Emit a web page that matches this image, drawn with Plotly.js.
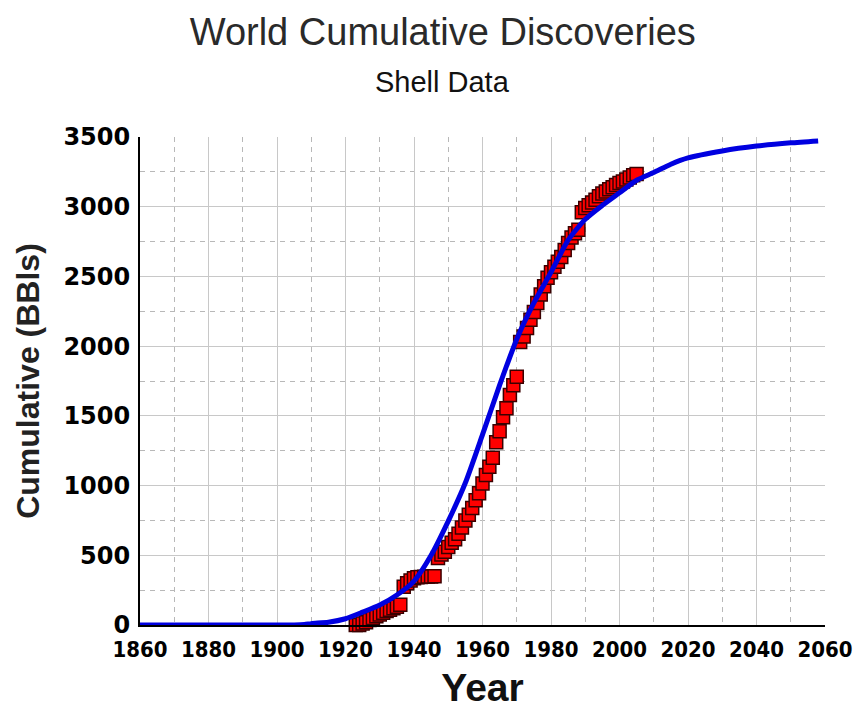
<!DOCTYPE html>
<html>
<head>
<meta charset="utf-8">
<script src="https://cdn.plot.ly/plotly-3.0.1.min.js"></script>
<style>html,body{margin:0;padding:0;background:#fff;}#chart{width:856px;height:712px;}</style>
</head>
<body>
<div id="chart"></div>
<script>
// Discovered cumulative volumes (Shell data), billion barrels
const dataYears = [1923,1924,1925,1926,1927,1928,1929,1930,1931,1932,1933,1934,1935,1936,
  1937,1938,1939,1940,1941,1942,1943,1944,1945,1946,1947,1948,1949,1950,1951,1952,1953,1954,
  1955,1956,1957,1958,1959,1960,1961,1962,1963,1964,1965,1966,1967,1968,1969,1970,1971,1972,
  1973,1974,1975,1976,1977,1978,1979,1980,1981,1982,1983,1984,1985,1986,1987,1988,1989,1990,
  1991,1992,1993,1994,1995,1996,1997,1998,1999,2000,2001,2002,2003,2004,2005];
const dataCum = [0,0,10,20,35,50,62,75,88,100,110,120,130,145,
  275,300,320,335,342,345,346,347,348,350,480,505,525,560,590,615,655,700,
  750,790,840,895,945,1015,1075,1135,1200,1310,1390,1490,1555,1650,1720,1780,2030,2070,
  2130,2190,2245,2310,2370,2430,2490,2530,2570,2605,2640,2690,2740,2780,2810,2835,2960,2990,
  3010,3030,3050,3075,3095,3110,3125,3140,3155,3170,3180,3195,3210,3225,3235];

// Fitted logistic curve
const fitYears = [1860,1870,1880,1890,1900,1905,1908,1910,1915,1920,1925,1930,1935,1940,1945,
  1950,1955,1960,1965,1970,1975,1980,1985,1990,1995,2000,2005,2010,2015,2020,2030,2040,2050,2058];
const fitCum = [0,0,0,0,0,0,3,10,20,45,92,143,215,315,500,
  745,1020,1365,1720,2050,2310,2530,2760,2910,3010,3100,3190,3245,3305,3350,3400,3435,3458,3472];

const xTicks = [1860,1880,1900,1920,1940,1960,1980,2000,2020,2040,2060];
const yTicks = [0,500,1000,1500,2000,2500,3000,3500];

const traces = [
  {
    x: dataYears, y: dataCum, type: 'scatter', mode: 'markers', name: 'Shell Data',
    cliponaxis: false,
    marker: {symbol: 'square', size: 13, color: '#ff0000', line: {color: '#3a0000', width: 1.5}}
  },
  {
    x: fitYears, y: fitCum, type: 'scatter', mode: 'lines', name: 'Fit',
    cliponaxis: false,
    line: {color: '#0000e0', width: 5, shape: 'spline', smoothing: 0.6}
  }
];

const layout = {
  width: 856, height: 712,
  paper_bgcolor: '#ffffff', plot_bgcolor: '#ffffff',
  showlegend: false,
  margin: {l: 140, r: 31, t: 137, b: 87},
  title: {
    text: 'World Cumulative Discoveries',
    font: {family: 'Liberation Sans, Arial, sans-serif', size: 38, color: '#2a2a2a'},
    xref: 'paper', x: 0.442, xanchor: 'center',
    yref: 'container', y: 1 - 32/712, yanchor: 'middle'
  },
  annotations: [{
    text: 'Shell Data', xref: 'paper', x: 0.442, xanchor: 'center',
    yref: 'paper', y: 1 + (137 - 82)/488, yanchor: 'middle', showarrow: false,
    font: {family: 'Liberation Sans, Arial, sans-serif', size: 29, color: '#111111'}
  }],
  xaxis: {
    range: [1859.999, 2060.001], tickvals: xTicks, ticktext: xTicks.map(String),
    showline: true, linecolor: '#000000', linewidth: 2,
    showgrid: true, gridcolor: '#c8c8c8', gridwidth: 1,
    minor: {dtick: 10, tick0: 1860, showgrid: true, gridcolor: '#b8b8b8', griddash: '5px,5px', gridwidth: 1},
    zeroline: false, ticks: '', ticklabelstandoff: 4,
    tickfont: {family: 'Liberation Sans Narrow, DejaVu Sans Condensed, Arial Narrow, sans-serif', size: 22, color: '#000000', weight: 'bold'},
    title: {text: 'Year', standoff: 12, font: {family: 'Liberation Sans, Arial, sans-serif', size: 39, color: '#111111', weight: 'bold'}}
  },
  yaxis: {
    range: [0, 3500.001], tickvals: yTicks, ticktext: yTicks.map(String),
    showline: true, linecolor: '#000000', linewidth: 2,
    showgrid: true, gridcolor: '#c8c8c8', gridwidth: 1,
    minor: {dtick: 250, tick0: 0, showgrid: true, gridcolor: '#b8b8b8', griddash: '5px,5px', gridwidth: 1},
    zeroline: false, ticks: '', ticklabelstandoff: 3,
    tickfont: {family: 'DejaVu Sans, Liberation Sans, sans-serif', size: 24, color: '#000000', weight: 'bold'},
    title: {text: 'Cumulative (BBls)', standoff: 14, font: {family: 'Liberation Sans, Arial, sans-serif', size: 32, color: '#222222', weight: 'bold'}}
  }
};

Plotly.newPlot('chart', traces, layout, {displayModeBar: false, staticPlot: true});
</script>
</body>
</html>
